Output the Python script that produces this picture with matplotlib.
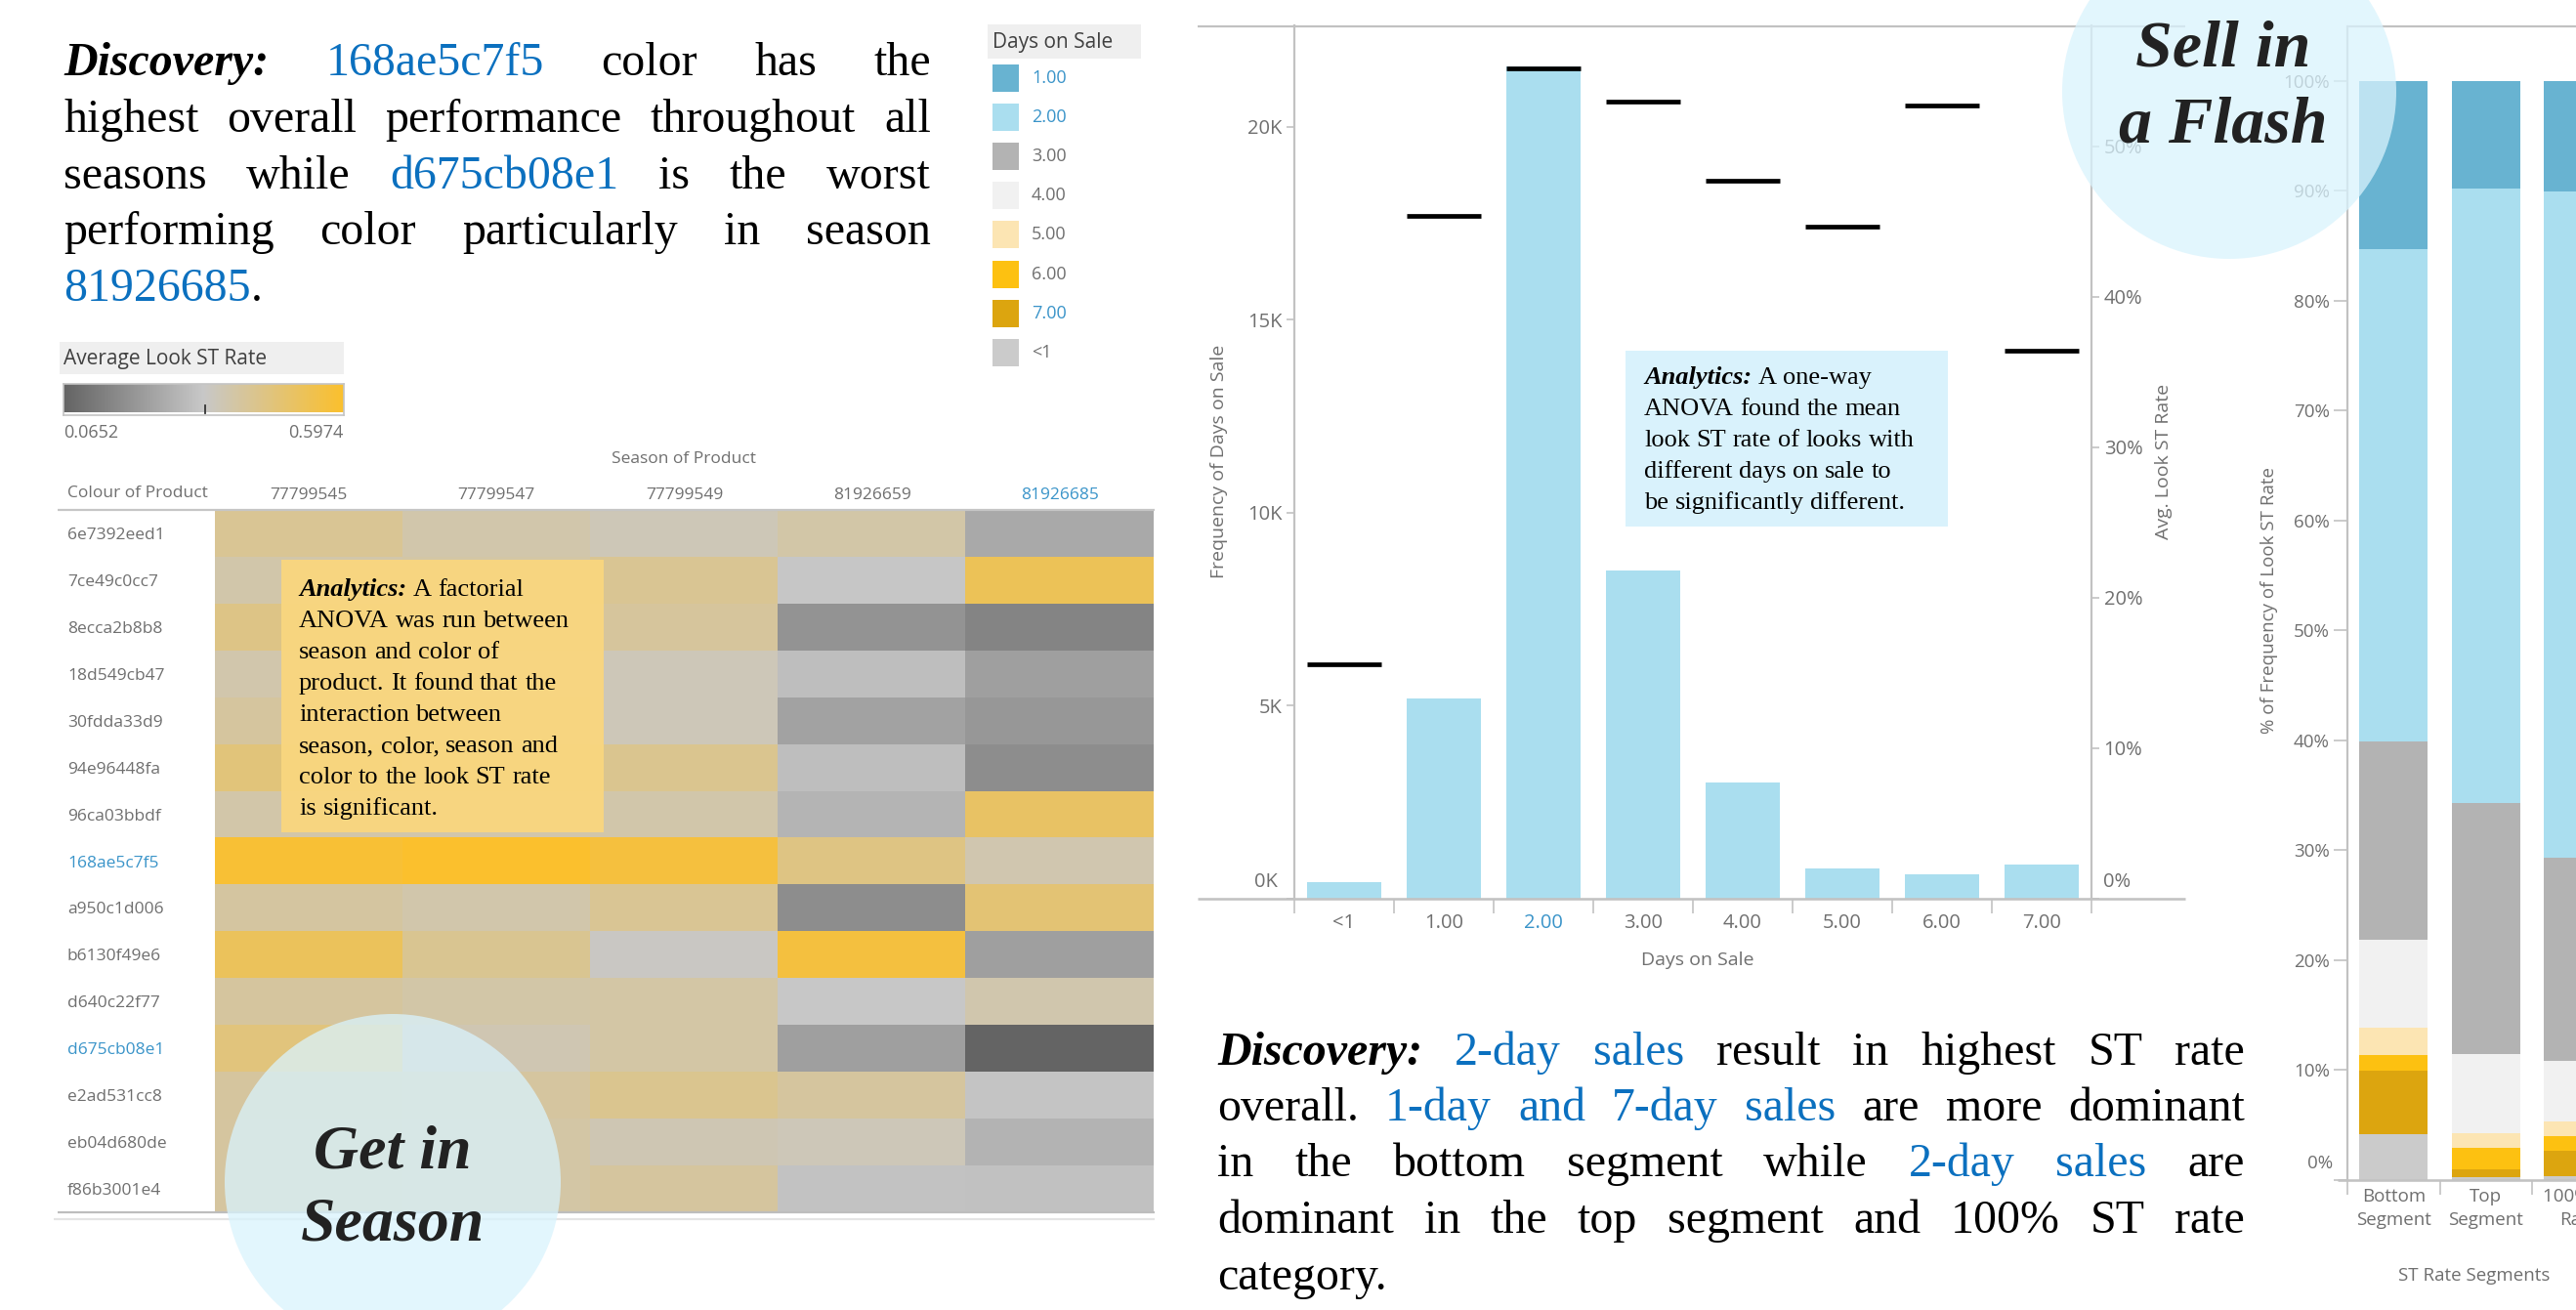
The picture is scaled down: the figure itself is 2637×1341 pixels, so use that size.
import re
import numpy as np
import matplotlib
matplotlib.use("Agg")
import matplotlib.pyplot as plt
from matplotlib.colors import LinearSegmentedColormap, Normalize
from matplotlib.patches import Rectangle, Circle

SERIF = "Liberation Serif"
SANS = "Open Sans"
GREY_TXT = "#6f6f6f"
AXIS_GREY = "#c2c2c2"
LINK_BLUE = "#0b70bf"
TICK_BLUE = "#3a94c9"

# ---------------------------------------------------------------- data
colours = ["6e7392eed1", "7ce49c0cc7", "8ecca2b8b8", "18d549cb47", "30fdda33d9",
           "94e96448fa", "96ca03bbdf", "168ae5c7f5", "a950c1d006", "b6130f49e6",
           "d640c22f77", "d675cb08e1", "e2ad531cc8", "eb04d680de", "f86b3001e4"]
seasons = ["77799545", "77799547", "77799549", "81926659", "81926685"]
highlight_colours = ["168ae5c7f5", "d675cb08e1"]
highlight_seasons = ["81926685"]

# Average look ST rate per colour (rows) and season (columns)
avg_st_rate = [
    [0.420, 0.381, 0.359, 0.386, 0.249],
    [0.383, 0.390, 0.422, 0.326, 0.524],
    [0.443, 0.400, 0.405, 0.190, 0.153],
    [0.378, 0.370, 0.357, 0.305, 0.225],
    [0.403, 0.380, 0.357, 0.233, 0.204],
    [0.463, 0.420, 0.427, 0.307, 0.177],
    [0.385, 0.380, 0.383, 0.281, 0.501],
    [0.582, 0.597, 0.568, 0.448, 0.373],
    [0.398, 0.381, 0.420, 0.177, 0.474],
    [0.517, 0.424, 0.338, 0.565, 0.225],
    [0.403, 0.386, 0.390, 0.331, 0.376],
    [0.462, 0.367, 0.390, 0.225, 0.065],
    [0.403, 0.400, 0.427, 0.403, 0.321],
    [0.400, 0.390, 0.366, 0.357, 0.278],
    [0.400, 0.390, 0.403, 0.315, 0.313],
]
rate_min, rate_max = 0.0652, 0.5974
overall_avg = 0.334

days = ["<1", "1.00", "2.00", "3.00", "4.00", "5.00", "6.00", "7.00"]
days_freq = [430, 5190, 21560, 8510, 3010, 780, 630, 890]
days_avg_st = [15.6, 45.4, 55.2, 53.0, 47.7, 44.7, 52.7, 36.4]   # percent
highlight_days = ["2.00"]

legend_days = ["1.00", "2.00", "3.00", "4.00", "5.00", "6.00", "7.00", "<1"]
legend_blue = ["1.00", "2.00", "7.00"]
day_colors = {"1.00": "#68b3d1", "2.00": "#aadeef", "3.00": "#b3b3b3",
              "4.00": "#f1f1f1", "5.00": "#fce5b3", "6.00": "#fdc111",
              "7.00": "#dca50f", "<1": "#cbcbcb"}

segments = ["Bottom\nSegment", "Top\nSegment", "100% ST\nRate"]
stack_order = ["<1", "7.00", "6.00", "5.00", "4.00", "3.00", "2.00", "1.00"]
segment_share = {                      # percent of looks per segment
    "<1":   [4.1, 0.2, 0.3],
    "7.00": [5.8, 0.7, 2.3],
    "6.00": [1.4, 2.0, 1.4],
    "5.00": [2.5, 1.3, 1.3],
    "4.00": [8.0, 7.2, 5.5],
    "3.00": [18.1, 22.9, 18.5],
    "2.00": [44.8, 55.9, 60.6],
    "1.00": [15.3, 9.8, 10.1],
}

top_story = [
    "*Discovery:* [168ae5c7f5] color has the",
    "highest overall performance throughout all",
    "seasons while [d675cb08e1] is the worst",
    "performing color particularly in season",
    "[81926685].",
]
bottom_story = [
    "*Discovery:* [2-day sales] result in highest ST rate",
    "overall. [1-day and 7-day sales] are more dominant",
    "in the bottom segment while [2-day sales] are",
    "dominant in the top segment and 100% ST rate",
    "category.",
]
season_note = [
    "*Analytics:* A factorial",
    "ANOVA was run between",
    "season and color of",
    "product. It found that the",
    "interaction between",
    "season, color, season and",
    "color to the look ST rate",
    "is significant.",
]
days_note = [
    "*Analytics:* A one-way",
    "ANOVA found the mean",
    "look ST rate of looks with",
    "different days on sale to",
    "be significantly different.",
]

# ---------------------------------------------------------------- figure
W, H = 2637, 1341
fig = plt.figure(figsize=(W / 100, H / 100), dpi=100)


def px(x0, y0, x1, y1):
    return [x0 / W, 1 - y1 / H, (x1 - x0) / W, (y1 - y0) / H]


PT = 0.72  # points per pixel at 100 dpi

# ---------------------------------------------------------------- heatmap
cmap = LinearSegmentedColormap.from_list("st", ["#646464", "#c8c8c8", "#fbc02d"])
norm = Normalize(rate_min, rate_max)

axh = fig.add_axes(px(220, 522, 1181, 1241))
axh.imshow(np.array(avg_st_rate), cmap=cmap, norm=norm, aspect="auto",
           interpolation="nearest")
for s in axh.spines.values():
    s.set_visible(False)
axh.set_yticks(range(len(colours)))
axh.set_yticklabels(colours, ha="left", fontsize=12.5, family=SANS)
for lab in axh.get_yticklabels():
    lab.set_color(TICK_BLUE if lab.get_text() in highlight_colours else GREY_TXT)
axh.tick_params(axis="y", length=0, pad=151 * PT)
axh.xaxis.tick_top()
axh.set_xticks(range(len(seasons)))
axh.set_xticklabels(seasons, fontsize=12.5, family=SANS)
for lab in axh.get_xticklabels():
    lab.set_color(TICK_BLUE if lab.get_text() in highlight_seasons else GREY_TXT)
axh.tick_params(axis="x", length=0, pad=5)

# colour scale
axc = fig.add_axes(px(65, 393, 352, 425))
axc.imshow(np.linspace(rate_min, rate_max, 512)[None, :], cmap=cmap, norm=norm,
           aspect="auto", extent=(rate_min, rate_max, 0, 1))
axc.set_xticks([])
axc.set_yticks([])
for s in axc.spines.values():
    s.set_color("#c4c4c4")
    s.set_linewidth(1.2)
axc.plot([overall_avg, overall_avg], [0.25, -0.06], color="#333333", lw=1.3,
         clip_on=False)

# ---------------------------------------------------------------- days on sale bars
x = np.arange(len(days))
axb = fig.add_axes(px(1325, 26, 2141, 920))
axb.bar(x, days_freq, width=0.745, color=day_colors["2.00"], zorder=2)
axb.set_xlim(-0.5, len(days) - 0.5)
axb.set_ylim(0, 22630)
for side in ["top", "bottom", "right"]:
    axb.spines[side].set_visible(False)
axb.spines["left"].set_color(AXIS_GREY)
axb.spines["left"].set_linewidth(1.6)
axb.set_yticks([0, 5000, 10000, 15000, 20000])
axb.set_yticklabels(["", "5K", "10K", "15K", "20K"], family=SANS, fontsize=14.5)
axb.tick_params(axis="y", length=6 * PT * 1.4, width=1.2, color=AXIS_GREY,
                labelcolor=GREY_TXT, pad=3)
axb.set_xticks(np.arange(-0.5, len(days)))
axb.set_xticklabels([])
axb.tick_params(axis="x", which="major", length=11, width=1.2, color=AXIS_GREY)
axb.set_xticks(x, minor=True)
axb.set_xticklabels(days, minor=True, family=SANS, fontsize=14.5)
axb.tick_params(axis="x", which="minor", length=0, pad=11, labelcolor=GREY_TXT)
for lab in axb.get_xticklabels(minor=True):
    if lab.get_text() in highlight_days:
        lab.set_color(TICK_BLUE)

axr = axb.twinx()
axr.hlines(np.array(days_avg_st) / 100, x - 0.3725, x + 0.3725, color="black",
           lw=3.4, zorder=3)
axr.set_ylim(0, 0.5805)
for side in ["top", "bottom", "left"]:
    axr.spines[side].set_visible(False)
axr.spines["right"].set_color(AXIS_GREY)
axr.spines["right"].set_linewidth(1.6)
axr.set_yticks([0, 0.1, 0.2, 0.3, 0.4, 0.5])
axr.set_yticklabels(["", "10%", "20%", "30%", "40%", "50%"], family=SANS, fontsize=14.5)
axr.tick_params(axis="y", length=6 * PT * 1.4, width=1.2, color=AXIS_GREY,
                labelcolor=GREY_TXT, pad=3)

# ---------------------------------------------------------------- segment stacks
xs = np.arange(len(segments))
axs = fig.add_axes(px(2403, 26.5, 2686.5, 1207.5))
bottom = np.zeros(len(segments))
for d in stack_order:
    vals = np.array(segment_share[d])
    axs.bar(xs, vals, width=0.74, bottom=bottom, color=day_colors[d])
    bottom += vals
axs.set_xlim(-0.5, len(segments) - 0.5)
axs.set_ylim(0, 104.98)
for side in ["top", "bottom", "right"]:
    axs.spines[side].set_visible(False)
axs.spines["left"].set_color(AXIS_GREY)
axs.spines["left"].set_linewidth(1.6)
axs.set_yticks(np.arange(0, 101, 10))
axs.set_yticklabels([""] + [f"{v}%" for v in range(10, 101, 10)], family=SANS,
                    fontsize=13.5)
axs.tick_params(axis="y", length=10, width=1.2, color=AXIS_GREY,
                labelcolor=GREY_TXT, pad=3)
axs.set_xticks(np.arange(-0.5, len(segments)))
axs.set_xticklabels([])
axs.tick_params(axis="x", which="major", length=11, width=1.2, color=AXIS_GREY)
axs.set_xticks(xs, minor=True)
axs.set_xticklabels(segments, minor=True, family=SANS, fontsize=13.5,
                    linespacing=1.45)
axs.tick_params(axis="x", which="minor", length=0, pad=6, labelcolor=GREY_TXT)

# ---------------------------------------------------------------- overlay layer
ov = fig.add_axes([0, 0, 1, 1])
ov.set_xlim(0, W)
ov.set_ylim(H, 0)
ov.axis("off")
ov.set_zorder(10)
ov.patch.set_alpha(0)

renderer = fig.canvas.get_renderer()


def hline(x0, x1, y, color=AXIS_GREY, lw=2.0, z=1):
    ov.plot([x0, x1], [y, y], color=color, lw=lw * PT, solid_capstyle="butt", zorder=z)


def word_props(kind, size):
    p = dict(fontsize=size, family=SERIF, color="black")
    if kind == "em":
        p.update(weight="bold", style="italic")
    elif kind == "blue":
        p.update(color=LINK_BLUE)
    return p


def tokenize(line):
    out = []
    for m in re.finditer(r"\*([^*]+)\*|\[([^\]]+)\]|([^\s\[\*]+)", line):
        glue = m.start() > 0 and not line[m.start() - 1].isspace()
        if m.group(1):
            words, kind = m.group(1).split(), "em"
        elif m.group(2):
            words, kind = m.group(2).split(), "blue"
        else:
            words, kind = [m.group(3)], "plain"
        for k, w in enumerate(words):
            out.append((w, kind, glue and k == 0))
    return out


def measure(s, props):
    t = ov.text(0, 0, s, **props)
    w = t.get_window_extent(renderer).width
    t.remove()
    return w


def paragraph(lines, x0, x1, baselines, size, justify=True, z=6):
    space = measure("a a", word_props("plain", size)) - measure("aa", word_props("plain", size))
    for i, (line, yb) in enumerate(zip(lines, baselines)):
        toks = tokenize(line)
        units = []
        for w, kind, glue in toks:
            props = word_props(kind, size)
            wd = measure(w, props)
            if glue and units:
                units[-1].append((w, props, wd))
            else:
                units.append([(w, props, wd)])
        widths = [sum(t[2] for t in u) for u in units]
        last = i == len(lines) - 1
        if justify and not last and len(units) > 1:
            gap = (x1 - x0 - sum(widths)) / (len(units) - 1)
        else:
            gap = space
        xc = x0
        for u, uw in zip(units, widths):
            xx = xc
            for w, props, wd in u:
                ov.text(xx, yb, w, ha="left", va="baseline", zorder=z, **props)
                xx += wd
            xc += uw + gap


# story paragraphs
paragraph(top_story, 65, 953, [77, 135, 193, 250, 308], 34.5)
paragraph(bottom_story, 1246, 2298, [1090, 1147, 1204, 1262, 1320], 34.5)

# analytics call-outs
ov.add_patch(Rectangle((288, 573), 330, 279, facecolor="#f9d67f", edgecolor="none",
                       alpha=0.96, zorder=4))
paragraph(season_note, 306, 610, [610, 642, 674, 706, 738, 770, 802, 834], 19,
          justify=False)
ov.add_patch(Rectangle((1664, 359), 330, 180, facecolor="#d9f2fc", edgecolor="none",
                       zorder=4))
paragraph(days_note, 1683, 1990, [393, 425, 457, 489, 521], 19, justify=False)

# heatmap frame lines and headings
hline(59, 1182, 522, color="#c6c6c6", lw=2.2)
hline(59, 1182, 1241, color="#bdbdbd", lw=2.2)
hline(55, 1182, 1248, color="#e4e4e4", lw=2.2)
ov.text(69, 505, "Colour of Product", fontsize=12.5, family=SANS, color=GREY_TXT,
        ha="left", va="center")
ov.text(700, 470, "Season of Product", fontsize=12.5, family=SANS, color=GREY_TXT,
        ha="center", va="center")

# colour scale heading
ov.add_patch(Rectangle((61, 350), 291, 33, facecolor="#efefef", edgecolor="none", zorder=1))
ov.text(65, 367, "Average Look ST Rate", fontsize=15, family=SANS, color="#404040",
        ha="left", va="center")
ov.text(65, 443, f"{rate_min:.4f}", fontsize=13, family=SANS, color=GREY_TXT,
        ha="left", va="center")
ov.text(352, 443, f"{rate_max:.4f}", fontsize=13, family=SANS, color=GREY_TXT,
        ha="right", va="center")

# days-on-sale legend
ov.add_patch(Rectangle((1011, 25), 157, 35, facecolor="#efefef", edgecolor="none", zorder=1))
ov.text(1016, 43, "Days on Sale", fontsize=15, family=SANS, color="#404040",
        ha="left", va="center")
for k, d in enumerate(legend_days):
    yc = 80 + 40.1 * k
    ov.add_patch(Rectangle((1016, yc - 14), 27, 28, facecolor=day_colors[d],
                           edgecolor="none", zorder=2))
    ov.text(1056, yc, d, fontsize=13, family=SANS,
            color=TICK_BLUE if d in legend_blue else GREY_TXT, ha="left", va="center")

# bar chart frame and titles
hline(1226, 2237, 26.5, lw=2.2)
hline(1226, 2237, 919.5, lw=2.6)
ov.text(1308, 903, "0K", fontsize=14.5, family=SANS, color=GREY_TXT, ha="right",
        va="center")
ov.text(2153, 903, "0%", fontsize=14.5, family=SANS, color=GREY_TXT, ha="left",
        va="center")
ov.text(1248, 472, "Frequency of Days on Sale", fontsize=14, family=SANS,
        color=GREY_TXT, rotation=90, ha="center", va="center")
ov.text(2215, 472, "Avg. Look ST Rate", fontsize=14, family=SANS, color=GREY_TXT,
        rotation=90, ha="center", va="center")
ov.text(1738, 983, "Days on Sale", fontsize=14, family=SANS, color=GREY_TXT,
        ha="center", va="center")

# segment chart frame and titles
hline(2403, W, 26.5, lw=2.2)
hline(2393, W, 1208, lw=2.6)
ov.text(2388, 1191, "0%", fontsize=13.5, family=SANS, color=GREY_TXT, ha="right",
        va="center")
ov.text(2323, 614, "% of Frequency of Look ST Rate", fontsize=13.5, family=SANS,
        color=GREY_TXT, rotation=90, ha="center", va="center")
ov.text(2533, 1306, "ST Rate Segments", fontsize=13.5, family=SANS, color=GREY_TXT,
        ha="center", va="center")

# section badges
ov.add_patch(Circle((402, 1210), 172, facecolor="#d9f3fd", edgecolor="none",
                    alpha=0.75, zorder=7))
ov.text(402, 1195, "Get in", fontsize=46, family=SERIF, weight="bold", style="italic",
        color="#222222", ha="center", va="baseline", zorder=8)
ov.text(402, 1270, "Season", fontsize=46, family=SERIF, weight="bold", style="italic",
        color="#222222", ha="center", va="baseline", zorder=8)
ov.add_patch(Circle((2282, 94), 171, facecolor="#d9f3fd", edgecolor="none",
                    alpha=0.75, zorder=7))
ov.text(2276, 67, "Sell in", fontsize=49, family=SERIF, weight="bold", style="italic",
        color="#222222", ha="center", va="baseline", zorder=8)
ov.text(2276, 145, "a Flash", fontsize=49, family=SERIF, weight="bold", style="italic",
        color="#222222", ha="center", va="baseline", zorder=8)

fig.savefig("out.png", dpi=100)
